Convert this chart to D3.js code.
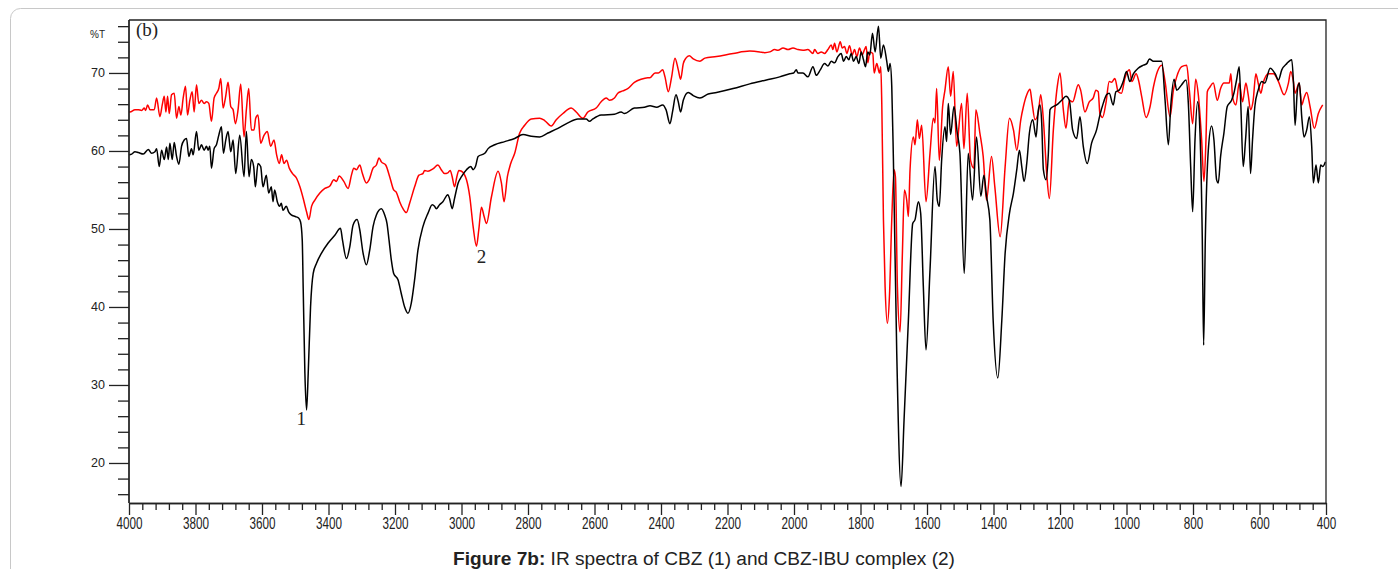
<!DOCTYPE html>
<html>
<head>
<meta charset="utf-8">
<script src="https://cdn.jsdelivr.net/npm/d3@7"></script>
<style>
  html, body { margin: 0; padding: 0; background: #fff; }
  svg { display: block; }
</style>
</head>
<body>
<svg id="chart" width="1398" height="569"></svg>
<script>
// ---- data: [wavenumber cm-1, %T] ----
const cbz = [
[4000,59.5],[3992,59.6],[3982,59.9],[3972,59.8],[3957,59.6],[3942,60.2],[3932,59.7],[3922,59.9],[3917,60.3],[3909,58.0],[3902,60.1],[3894,58.9],[3887,60.5],[3882,58.9],[3877,61.0],[3870,58.9],[3864,61.1],[3857,59.3],[3850,58.3],[3842,60.6],[3834,61.4],[3827,61.6],[3820,59.3],[3812,60.3],[3807,59.5],[3797,62.5],[3790,60.1],[3782,60.8],[3774,60.1],[3767,60.6],[3762,60.1],[3757,60.6],[3752,57.8],[3744,60.3],[3737,60.8],[3730,62.0],[3722,63.1],[3716,59.7],[3709,61.4],[3702,62.5],[3694,59.9],[3687,61.4],[3679,57.1],[3667,62.0],[3654,56.7],[3647,62.5],[3639,56.7],[3632,58.9],[3625,58.0],[3620,55.4],[3612,58.4],[3604,58.0],[3597,55.4],[3587,56.9],[3580,54.6],[3572,55.4],[3567,53.5],[3562,55.0],[3554,53.5],[3547,52.9],[3542,53.3],[3537,52.4],[3527,52.9],[3520,52.2],[3512,51.8],[3500,51.6],[3490,51.4],[3484,50.9],[3479,48.6],[3476,42.2],[3471,31.5],[3466,26.8],[3461,31.5],[3454,40.0],[3446,44.3],[3436,45.6],[3421,46.9],[3401,48.2],[3381,49.2],[3364,50.1],[3358,48.6],[3346,46.2],[3336,47.7],[3326,50.5],[3314,51.2],[3306,49.9],[3296,46.9],[3286,45.4],[3276,47.3],[3266,50.3],[3256,51.8],[3241,52.6],[3231,51.8],[3224,50.7],[3218,48.6],[3211,46.0],[3204,44.3],[3191,43.5],[3181,41.7],[3171,40.0],[3161,39.2],[3151,40.5],[3141,43.5],[3131,47.3],[3116,50.3],[3101,52.0],[3088,53.1],[3081,52.9],[3076,52.6],[3066,53.1],[3056,53.5],[3041,54.4],[3036,53.9],[3028,52.6],[3021,53.9],[3010,55.9],[3000,56.7],[2985,57.6],[2972,58.0],[2965,57.6],[2958,58.0],[2950,59.3],[2930,59.7],[2920,60.3],[2900,60.8],[2870,61.2],[2840,61.6],[2815,62.1],[2790,61.9],[2765,61.8],[2740,62.3],[2710,62.9],[2680,63.6],[2650,64.1],[2625,64.1],[2615,63.8],[2605,64.1],[2580,64.6],[2540,64.7],[2520,65.0],[2510,64.8],[2480,65.5],[2450,65.6],[2433,65.8],[2413,65.6],[2395,65.9],[2385,65.3],[2373,63.5],[2365,65.1],[2355,67.2],[2348,66.3],[2341,65.0],[2333,66.5],[2318,67.5],[2303,67.1],[2283,66.8],[2258,67.3],[2233,67.5],[2183,68.0],[2133,68.6],[2083,69.1],[2043,69.5],[2013,69.9],[2001,70.0],[1993,70.4],[1988,70.0],[1973,70.0],[1958,69.5],[1943,70.8],[1933,69.7],[1921,70.4],[1908,71.2],[1898,70.9],[1888,71.5],[1878,71.3],[1868,72.1],[1858,72.5],[1851,71.5],[1843,72.1],[1835,71.7],[1828,72.5],[1821,71.5],[1813,72.1],[1805,71.2],[1798,72.7],[1791,71.7],[1785,70.8],[1778,72.7],[1772,72.3],[1764,75.1],[1756,72.7],[1746,76.0],[1739,71.9],[1731,73.6],[1721,71.5],[1716,70.2],[1711,71.2],[1706,68.3],[1701,58.8],[1691,34.1],[1678,17.0],[1669,25.5],[1656,38.3],[1643,50.7],[1636,51.2],[1626,53.5],[1619,52.0],[1611,42.6],[1603,34.5],[1591,44.7],[1576,58.0],[1569,53.7],[1563,52.9],[1556,58.8],[1546,63.1],[1541,61.2],[1536,66.1],[1529,62.1],[1519,65.7],[1509,62.3],[1501,59.7],[1488,44.3],[1476,59.7],[1463,53.7],[1451,61.8],[1438,54.2],[1429,56.9],[1421,54.2],[1411,51.2],[1401,38.3],[1387,30.9],[1375,38.3],[1365,46.9],[1352,52.0],[1340,54.6],[1330,57.6],[1322,60.1],[1315,58.0],[1308,56.1],[1300,58.4],[1292,62.3],[1282,64.0],[1272,61.8],[1265,65.3],[1260,65.9],[1255,63.6],[1250,57.6],[1242,56.3],[1235,59.7],[1230,65.3],[1220,65.7],[1210,65.9],[1195,66.5],[1182,67.0],[1172,66.5],[1162,62.7],[1150,61.6],[1140,64.4],[1130,60.6],[1118,58.4],[1105,61.0],[1090,62.7],[1080,64.6],[1070,66.1],[1060,67.2],[1052,67.4],[1040,65.9],[1032,67.6],[1022,67.8],[1010,68.9],[1000,70.2],[990,68.9],[979,69.9],[965,70.6],[949,71.0],[939,71.2],[931,71.8],[919,71.5],[894,71.5],[884,66.5],[874,60.8],[867,65.7],[857,69.2],[849,67.8],[834,68.5],[821,69.1],[814,66.1],[807,58.0],[801,52.2],[794,61.4],[786,66.3],[779,62.3],[772,48.6],[768,35.1],[763,48.6],[754,60.1],[744,63.2],[737,61.4],[729,56.3],[724,55.9],[717,59.3],[707,62.3],[697,65.7],[684,66.5],[677,67.4],[669,69.1],[661,70.8],[656,65.7],[649,58.0],[642,61.4],[634,65.7],[627,57.1],[621,61.4],[614,65.7],[604,67.8],[593,68.9],[584,68.7],[568,70.6],[553,69.9],[543,69.1],[533,70.4],[518,71.2],[503,71.7],[498,68.9],[493,63.3],[486,67.8],[480,68.7],[473,64.4],[466,61.8],[458,62.7],[450,64.4],[443,60.6],[438,55.9],[430,58.2],[423,55.9],[416,58.2],[410,58.0],[402,58.6]
];
const cbzIbu = [
[4000,65.0],[3997,65.0],[3982,65.3],[3972,65.3],[3962,65.2],[3954,65.5],[3950,65.2],[3944,65.9],[3937,65.3],[3924,65.3],[3917,66.8],[3907,64.4],[3900,65.9],[3894,67.0],[3889,65.0],[3884,67.0],[3879,64.8],[3872,67.2],[3864,67.4],[3857,64.2],[3850,65.7],[3844,64.6],[3837,66.8],[3830,68.3],[3824,64.6],[3817,66.5],[3810,67.6],[3804,65.0],[3797,68.5],[3790,66.1],[3782,66.5],[3774,66.1],[3767,66.3],[3760,66.1],[3752,63.8],[3744,66.8],[3737,67.4],[3730,68.0],[3724,69.3],[3717,65.5],[3710,66.8],[3702,68.8],[3694,65.7],[3687,65.3],[3680,63.5],[3672,65.3],[3664,68.6],[3654,61.8],[3647,65.3],[3640,68.0],[3632,62.7],[3624,62.7],[3619,64.2],[3612,64.6],[3604,61.0],[3594,62.0],[3584,62.5],[3574,60.6],[3564,61.4],[3556,59.5],[3548,58.4],[3541,59.5],[3534,58.4],[3526,58.8],[3518,57.8],[3508,57.1],[3496,56.5],[3486,55.4],[3476,53.9],[3466,52.2],[3459,51.2],[3451,52.9],[3441,53.7],[3426,54.6],[3411,55.2],[3396,55.5],[3384,56.3],[3376,56.1],[3368,56.8],[3354,56.1],[3341,55.2],[3331,56.9],[3324,57.8],[3316,57.6],[3306,58.2],[3298,57.1],[3286,55.9],[3278,56.3],[3266,57.8],[3256,58.2],[3248,59.1],[3241,58.6],[3228,58.2],[3216,56.7],[3204,55.0],[3196,54.7],[3186,53.5],[3176,52.6],[3166,52.1],[3156,53.3],[3141,55.4],[3128,56.9],[3116,57.1],[3111,57.5],[3101,57.4],[3086,57.7],[3071,58.2],[3061,57.6],[3051,57.1],[3041,57.2],[3034,57.5],[3028,56.7],[3021,55.4],[3014,56.7],[3008,57.5],[3000,57.4],[2985,56.3],[2975,54.1],[2965,50.3],[2955,47.8],[2948,49.9],[2940,52.8],[2932,51.6],[2925,50.7],[2910,54.1],[2890,57.4],[2880,55.9],[2872,53.5],[2862,56.7],[2852,58.4],[2840,59.7],[2825,62.3],[2810,63.3],[2790,64.1],[2765,64.2],[2750,63.9],[2730,63.2],[2715,64.0],[2695,64.8],[2670,65.5],[2655,65.0],[2635,64.2],[2620,65.0],[2595,65.5],[2580,66.3],[2565,66.8],[2555,66.5],[2540,66.8],[2530,67.4],[2515,67.7],[2500,68.0],[2480,68.8],[2460,69.2],[2440,69.4],[2433,69.4],[2418,70.0],[2408,70.0],[2395,70.4],[2388,69.5],[2378,67.6],[2368,69.5],[2358,71.9],[2348,70.4],[2341,69.2],[2333,71.2],[2325,71.9],[2315,72.2],[2303,71.8],[2283,71.5],[2268,71.9],[2233,72.1],[2183,72.5],[2133,72.8],[2103,72.7],[2088,72.6],[2073,72.7],[2058,73.0],[2048,72.9],[2033,73.2],[2018,73.0],[2003,73.2],[1988,73.0],[1973,72.9],[1958,73.0],[1943,72.5],[1938,73.0],[1928,72.5],[1918,72.7],[1908,72.5],[1898,73.0],[1888,73.6],[1883,73.0],[1878,73.8],[1871,72.7],[1861,74.0],[1855,73.2],[1848,73.4],[1841,72.5],[1833,73.5],[1825,72.3],[1818,73.0],[1811,72.1],[1803,73.2],[1795,72.3],[1788,73.0],[1783,73.4],[1778,71.3],[1772,72.7],[1763,72.5],[1759,70.0],[1751,71.2],[1743,70.0],[1739,70.8],[1736,66.1],[1731,51.2],[1726,42.6],[1719,37.9],[1713,41.3],[1706,51.2],[1699,57.6],[1695,56.7],[1689,42.6],[1681,36.8],[1674,46.9],[1668,55.0],[1661,53.7],[1656,51.6],[1651,57.6],[1641,61.8],[1636,60.8],[1629,64.0],[1623,61.6],[1616,63.3],[1603,53.5],[1591,59.7],[1581,64.2],[1576,63.6],[1571,68.0],[1563,58.8],[1553,65.7],[1546,67.8],[1536,70.8],[1529,67.0],[1521,70.2],[1511,60.6],[1496,66.1],[1489,60.3],[1479,67.4],[1469,58.8],[1459,57.8],[1453,65.3],[1441,62.3],[1431,59.3],[1421,53.7],[1406,59.3],[1396,55.4],[1380,49.0],[1365,58.0],[1352,64.2],[1340,62.7],[1330,60.1],[1318,64.0],[1310,65.7],[1300,67.2],[1290,67.9],[1285,66.5],[1275,64.0],[1265,65.0],[1258,67.2],[1250,64.0],[1240,57.1],[1232,53.9],[1220,62.7],[1208,68.3],[1200,70.0],[1190,65.3],[1182,62.9],[1172,66.5],[1162,66.3],[1145,68.5],[1138,67.8],[1125,65.0],[1112,66.3],[1100,66.8],[1092,67.8],[1085,67.6],[1080,64.8],[1072,64.3],[1062,66.1],[1052,68.9],[1045,68.8],[1035,69.3],[1025,67.6],[1015,67.4],[1005,69.3],[991,70.4],[984,68.9],[971,69.9],[964,69.1],[954,66.9],[941,64.3],[929,65.7],[919,68.2],[907,70.2],[894,71.0],[884,68.9],[869,64.4],[859,67.8],[849,69.5],[834,70.8],[819,71.0],[811,67.8],[801,63.5],[792,69.2],[784,67.2],[774,61.4],[767,56.1],[761,61.4],[757,67.6],[749,68.2],[739,68.7],[727,66.5],[717,68.0],[707,68.7],[699,68.7],[691,68.7],[686,69.9],[681,66.9],[671,65.9],[661,68.7],[651,66.3],[641,68.7],[634,67.2],[627,65.3],[619,66.5],[611,69.9],[604,68.7],[596,67.4],[589,68.7],[573,69.9],[558,69.9],[543,68.9],[526,67.2],[513,68.7],[506,70.2],[498,68.9],[493,67.4],[481,68.7],[473,65.9],[466,66.8],[458,67.5],[448,65.7],[435,62.9],[423,64.8],[410,65.9]
];
const xMajorTicks = [4000,3800,3600,3400,3200,3000,2800,2600,2400,2200,2000,1800,1600,1400,1200,1000,800,600,400];
const yMajorTicks = [20,30,40,50,60,70];
const yUnitLabel = "%T";
const panelLabel = "(b)";
const peakLabels = [{text:"1", wn:3482, t:24.9}, {text:"2", wn:2940, t:45.6}];
const captionBold = "Figure 7b:";
const captionRest = " IR spectra of CBZ (1) and CBZ-IBU complex (2)";

(function () {
  const svg = d3.select("#chart");
  const mL = 129, mR = 1326, mT = 20, mB = 503;
  const x = d3.scaleLinear().domain([4000, 400]).range([mL, mR]);
  const y = d3.scaleLinear().domain([14.87, 76.79]).range([mB, mT]);

  // outer rounded border
  svg.append("rect").attr("x", 10.5).attr("y", 8.5).attr("width", 1420).attr("height", 620)
    .attr("rx", 10).attr("fill", "none").attr("stroke", "#c8c8c8").attr("stroke-width", 1);

  // spectra
  const line = d3.line().x(d => x(d[0])).y(d => y(d[1])).curve(d3.curveMonotoneX);
  svg.append("path").datum(cbzIbu).attr("d", line)
    .attr("fill", "none").attr("stroke", "#ff0000").attr("stroke-width", 1.5).attr("stroke-linejoin", "round");
  svg.append("path").datum(cbz).attr("d", line)
    .attr("fill", "none").attr("stroke", "#000").attr("stroke-width", 1.5).attr("stroke-linejoin", "round");

  // frame top + right
  svg.append("path").attr("d", `M${mL},${mT}H${mR}V${mB}`)
    .attr("fill", "none").attr("stroke", "#222").attr("stroke-width", 1.3);

  // x axis
  const xMinor = d3.range(4000, 399, -40).filter(v => v % 200 !== 0);
  const gxMinor = svg.append("g").attr("transform", `translate(0,${mB})`)
    .call(d3.axisBottom(x).tickValues(xMinor).tickSize(7).tickSizeOuter(0).tickFormat(""));
  const gx = svg.append("g").attr("transform", `translate(0,${mB})`)
    .call(d3.axisBottom(x).tickValues(xMajorTicks).tickSize(12).tickSizeOuter(0).tickPadding(3).tickFormat(d3.format("d")));

  // y axis
  const yMinor = d3.range(16, 77, 2).filter(v => v % 10 !== 0);
  const gyMinor = svg.append("g").attr("transform", `translate(${mL},0)`)
    .call(d3.axisLeft(y).tickValues(yMinor).tickSize(11).tickSizeOuter(0).tickFormat(""));
  const gy = svg.append("g").attr("transform", `translate(${mL},0)`)
    .call(d3.axisLeft(y).tickValues(yMajorTicks).tickSize(20).tickSizeOuter(0).tickPadding(4));

  [gxMinor, gx, gyMinor, gy].forEach(g => {
    g.selectAll("path.domain").attr("stroke", "#222").attr("stroke-width", 1.3);
    g.selectAll(".tick line").attr("stroke", "#222").attr("stroke-width", 1.3);
  });
  gx.selectAll("text").attr("font-family", "Liberation Sans, Arial, sans-serif").attr("font-size", 16)
    .attr("fill", "#222")
    .attr("textLength", d => String(d).length * 6.5).attr("lengthAdjust", "spacingAndGlyphs");
  gy.selectAll("text").attr("font-family", "Liberation Sans, Arial, sans-serif").attr("font-size", 12.5)
    .attr("fill", "#222");
  gy.select("path.domain").attr("d", `M0,${mT}V${mB}`);
  gyMinor.select("path.domain").attr("d", `M0,${mT}V${mB}`);

  // %T label
  svg.append("text").attr("x", 105).attr("y", 38).attr("text-anchor", "end")
    .attr("font-family", "Liberation Sans, Arial, sans-serif").attr("font-size", 10).attr("fill", "#222")
    .text(yUnitLabel);

  // panel label
  svg.append("text").attr("x", 136).attr("y", 36)
    .attr("font-family", "Liberation Serif, Times New Roman, serif").attr("font-size", 19).attr("fill", "#222")
    .text(panelLabel);

  // peak labels
  svg.selectAll("text.peak").data(peakLabels).enter().append("text").attr("class", "peak")
    .attr("x", d => x(d.wn)).attr("y", d => y(d.t)).attr("text-anchor", "middle")
    .attr("font-family", "Liberation Serif, Times New Roman, serif").attr("font-size", 19).attr("fill", "#222")
    .text(d => d.text);

  // caption
  const cap = svg.append("text").attr("x", 453).attr("y", 564.5).attr("text-anchor", "start")
    .attr("font-family", "Liberation Sans, Arial, sans-serif").attr("font-size", 18).attr("fill", "#222")
    .attr("textLength", 502).attr("lengthAdjust", "spacingAndGlyphs");
  cap.append("tspan").attr("font-weight", "bold").text(captionBold);
  cap.append("tspan").text(captionRest);
})();
</script>
</body>
</html>
